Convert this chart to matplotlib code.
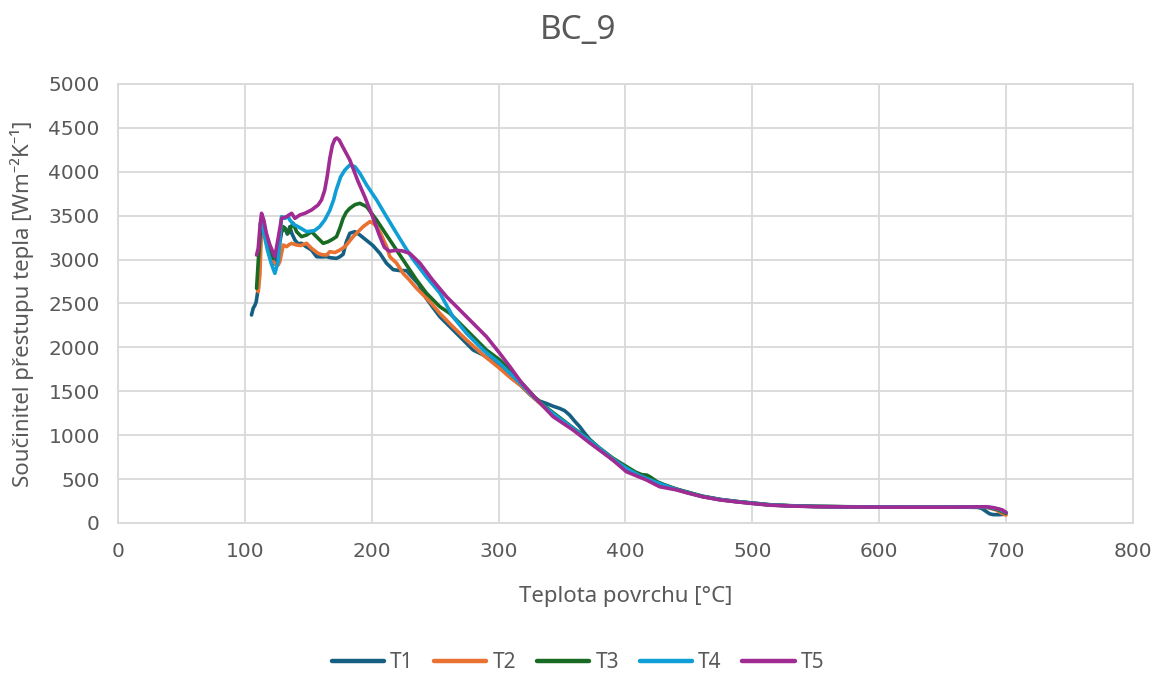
import matplotlib
matplotlib.use("Agg")
import matplotlib.pyplot as plt

# Surface temperature [°C] vs. heat transfer coefficient [W m^-2 K^-1]
t1_x = [105.3, 106.6, 108.0, 109.0, 110.6, 111.9, 113.1, 115.0, 118.0, 121.0, 123.5, 126.0,
        129.0, 131.6, 133.5, 135.5, 137.0, 139.5, 142.0, 144.7, 148.0, 152.6, 156.6, 160.0,
        164.5, 168.0, 172.3, 175.0, 177.5, 180.0, 182.8, 186.8, 190.7, 195.0, 201.0, 206.5,
        211.7, 217.0, 222.0, 227.5, 232.0, 237.0, 243.0, 248.0, 253.7, 261.6, 269.5, 280.0,
        288.0, 301.0, 309.0, 318.0, 325.0, 332.0, 338.0, 343.0, 348.0, 352.0, 356.0, 360.0,
        364.0, 368.0, 372.0, 380.0, 390.0, 400.0, 410.0, 420.0, 430.0, 440.0, 450.0, 461.0,
        475.0, 487.5, 500.0, 514.0, 530.0, 550.0, 575.0, 600.0, 625.0, 650.0, 670.0, 678.0,
        681.0, 684.0, 687.0, 690.0, 695.0, 699.0, 700.0]
t1_y = [2369, 2445, 2480, 2520, 2673, 3052, 3450, 3380, 3150, 2976, 2950, 3050,
        3318, 3360, 3290, 3375, 3300, 3223, 3180, 3185, 3150, 3109, 3033, 3030,
        3033, 3020, 3014, 3033, 3060, 3200, 3300, 3318, 3280, 3230, 3160, 3071,
        2958, 2885, 2875, 2874, 2800, 2720, 2560, 2460, 2350, 2236, 2122, 1970,
        1913, 1780, 1666, 1560, 1460, 1390, 1360, 1330, 1306, 1280, 1230, 1160,
        1097, 1020, 950, 840, 720, 620, 540, 480, 430, 385, 345, 300,
        265, 243, 225, 205, 195, 188, 184, 182, 180, 180, 180, 178,
        165, 135, 105, 95, 95, 100, 110]

t2_x = [110.0, 110.6, 111.9, 113.2, 114.5, 116.0, 119.0, 122.0, 124.5, 126.3, 127.6, 130.3,
        132.9, 135.0, 136.9, 140.8, 144.0, 148.7, 152.6, 157.8, 161.0, 164.5, 167.0, 171.0,
        175.0, 179.0, 185.4, 193.3, 198.6, 201.5, 203.9, 207.0, 211.7, 214.3, 219.6, 224.8,
        229.0, 235.4, 245.9, 253.7, 264.0, 274.8, 288.0, 301.0, 309.0, 318.0, 328.0, 340.0,
        350.0, 360.0, 370.0, 380.0, 390.0, 400.0, 410.0, 420.0, 430.0, 440.0, 450.0, 461.0,
        475.0, 487.5, 500.0, 514.0, 530.0, 550.0, 575.0, 600.0, 625.0, 650.0, 670.0, 685.0,
        692.0, 697.0, 700.0]
t2_y = [2660, 2635, 2825, 3356, 3420, 3300, 3100, 2980, 2950, 2938, 2976, 3166,
        3147, 3170, 3185, 3166, 3160, 3185, 3128, 3071, 3055, 3052, 3090, 3080,
        3109, 3147, 3261, 3375, 3432, 3410, 3375, 3300, 3150, 3033, 2960, 2843,
        2780, 2673, 2521, 2388, 2236, 2084, 1913, 1760, 1660, 1560, 1420, 1270,
        1160, 1060, 960, 840, 730, 625, 545, 485, 432, 383, 343, 302,
        266, 244, 226, 206, 196, 188, 184, 182, 181, 180, 180, 178,
        150, 110, 90]

t3_x = [109.3, 110.6, 111.9, 113.0, 115.0, 118.0, 122.4, 125.0, 127.0, 129.0, 130.3, 132.0,
        134.2, 136.0, 138.2, 140.8, 144.7, 148.7, 152.6, 157.8, 161.8, 165.7, 169.0, 172.3,
        175.0, 177.5, 180.0, 182.8, 186.8, 190.7, 196.0, 203.9, 211.7, 219.6, 227.5, 235.4,
        243.3, 253.7, 261.6, 269.5, 280.0, 290.5, 301.0, 309.0, 318.0, 328.0, 340.0, 350.0,
        360.0, 370.0, 380.0, 390.0, 400.0, 408.0, 413.0, 417.0, 420.0, 425.0, 430.0, 440.0,
        450.0, 461.0, 475.0, 487.5, 500.0, 514.0, 530.0, 550.0, 575.0, 600.0, 625.0, 650.0,
        670.0, 686.0, 694.0, 700.0]
t3_y = [2673, 2976, 3242, 3432, 3350, 3150, 3014, 3050, 3200, 3318, 3375, 3350,
        3300, 3360, 3413, 3318, 3261, 3280, 3318, 3242, 3185, 3204, 3230, 3261,
        3360, 3470, 3540, 3584, 3625, 3641, 3603, 3451, 3280, 3109, 2938, 2768,
        2616, 2464, 2388, 2274, 2122, 1970, 1856, 1742, 1600, 1440, 1290, 1180,
        1070, 970, 850, 740, 650, 580, 550, 545, 520, 470, 440, 388,
        348, 305, 268, 246, 228, 208, 197, 189, 185, 183, 182, 181,
        181, 178, 150, 110]

t4_x = [112.0, 113.2, 115.0, 118.0, 121.0, 123.7, 126.3, 129.0, 131.6, 134.2, 135.5, 138.5,
        142.0, 148.7, 155.0, 159.0, 163.0, 167.0, 170.0, 172.0, 175.5, 178.9, 182.8, 186.8,
        190.7, 196.0, 203.9, 211.7, 219.6, 226.0, 232.7, 243.3, 253.7, 264.0, 274.8, 287.9,
        301.0, 309.0, 318.0, 328.0, 340.0, 350.0, 360.0, 370.0, 380.0, 390.0, 400.0, 410.0,
        420.0, 430.0, 440.0, 450.0, 461.0, 475.0, 487.5, 500.0, 514.0, 530.0, 550.0, 575.0,
        600.0, 625.0, 650.0, 670.0, 686.0, 694.0, 700.0]
t4_y = [3400, 3450, 3300, 3100, 2950, 2843, 2976, 3489, 3470, 3489, 3451, 3400,
        3375, 3318, 3330, 3375, 3450, 3560, 3680, 3790, 3940, 4020, 4077, 4058,
        3983, 3850, 3679, 3489, 3300, 3150, 3000, 2800, 2620, 2350, 2160, 1970,
        1818, 1704, 1580, 1430, 1280, 1170, 1065, 960, 845, 730, 630, 548,
        487, 433, 383, 342, 301, 266, 244, 226, 206, 196, 188, 184,
        182, 181, 181, 182, 180, 160, 120]

t5_x = [109.3, 110.6, 112.0, 113.2, 115.0, 117.0, 119.8, 123.7, 126.3, 129.0, 132.9, 136.9,
        139.5, 143.4, 147.4, 152.6, 157.8, 160.5, 163.0, 165.0, 167.0, 169.0, 171.0, 172.5,
        174.5, 177.0, 182.8, 189.0, 195.0, 201.0, 206.0, 210.0, 214.0, 219.0, 224.0, 230.0,
        238.0, 248.0, 259.0, 269.5, 280.0, 290.5, 301.0, 309.0, 318.0, 328.0, 343.0, 358.8,
        372.0, 390.0, 400.8, 416.6, 427.0, 440.0, 450.0, 461.0, 475.0, 487.5, 500.0, 514.0,
        530.0, 550.0, 575.0, 600.0, 625.0, 650.0, 670.0, 684.0, 690.0, 697.0, 700.0]
t5_y = [3052, 3128, 3380, 3527, 3450, 3300, 3166, 3033, 3242, 3470, 3489, 3527,
        3470, 3508, 3527, 3565, 3622, 3680, 3790, 3950, 4150, 4300, 4370, 4385,
        4360, 4290, 4134, 3900, 3700, 3480, 3280, 3140, 3095, 3105, 3100, 3071,
        2960, 2768, 2578, 2426, 2274, 2122, 1932, 1780, 1600, 1440, 1211, 1059,
        911, 718, 584, 490, 413, 378, 338, 298, 262, 241, 222, 203,
        193, 186, 183, 181, 180, 180, 182, 185, 175, 150, 120]

series = [
    ("T1", t1_x, t1_y, "#156082"),
    ("T2", t2_x, t2_y, "#E97132"),
    ("T3", t3_x, t3_y, "#196B24"),
    ("T4", t4_x, t4_y, "#0F9ED5"),
    ("T5", t5_x, t5_y, "#A02B93"),
]

x_ticks = list(range(0, 801, 100))
y_ticks = list(range(0, 5001, 500))

text_color = "#595959"
grid_color = "#D9D9D9"

plt.rcParams["font.family"] = ["DejaVu Sans"]

fig = plt.figure(figsize=(11.56, 6.75), dpi=100)
ax = fig.add_axes([0.102, 0.2252, 0.878, 0.6504])

for name, xs, ys, col in series:
    ax.plot(xs, ys, color=col, lw=2.6, label=name, solid_capstyle="round",
            solid_joinstyle="round")

ax.set_xlim(0, 800)
ax.set_ylim(0, 5000)
ax.set_xticks(x_ticks)
ax.set_yticks(y_ticks)
ax.tick_params(axis="both", length=0, labelsize=14.5, colors=text_color)
ax.tick_params(axis="x", pad=14)
ax.tick_params(axis="y", pad=13)
ax.grid(True, color=grid_color, lw=1.3)
ax.set_axisbelow(True)
for sp in ax.spines.values():
    sp.set_color(grid_color)
    sp.set_linewidth(1.3)

label_font = ["Noto Sans", "DejaVu Sans"]
ax.set_xlabel("Teplota povrchu [°C]", fontsize=16, color=text_color,
              family=label_font, labelpad=18)
ax.set_ylabel("Součinitel přestupu tepla [Wm⁻²K⁻¹]", fontsize=16, color=text_color,
              family=label_font, labelpad=10)
fig.text(0.5, 0.955, "BC_9", ha="center", va="center", fontsize=24,
         color=text_color, family=label_font)

leg = fig.legend(loc="center", bbox_to_anchor=(0.5, 0.018), ncol=5, frameon=False,
                 fontsize=15, handlelength=2.5, columnspacing=1.0, handletextpad=0.3)
for t in leg.get_texts():
    t.set_color(text_color)
    t.set_family(label_font)
for h in leg.legend_handles:
    h.set_linewidth(3.2)

fig.savefig("out.png", dpi=100)
